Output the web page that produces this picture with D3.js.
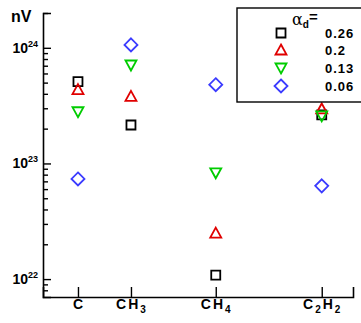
<!DOCTYPE html>
<html>
<head>
<meta charset="utf-8">
<script src="https://cdn.jsdelivr.net/npm/d3@7"></script>
<style>
  body { margin: 0; background: #fff; }
  svg { display: block; font-family: "Liberation Sans", Arial, sans-serif; font-weight: bold; }
</style>
</head>
<body>
<div id="chart"></div>
<script>
// species along the x axis, with their positions on the (uneven) axis
var species = ["C", "CH3", "CH4", "C2H2"];
var speciesPos = [1, 2, 3.6, 5.6];

// nV for each alpha_d
var alphas = ["0.26", "0.2", "0.13", "0.06"];
var nV026 = [5.1e23, 2.15e23, 1.08e22, 2.63e23];
var nV020 = [4.35e23, 3.8e23, 2.5e22, 2.96e23];
var nV013 = [2.8e23, 7.1e23, 8.3e22, 2.58e23];
var nV006 = [7.35e22, 1.06e24, 4.8e23, 6.4e22];

var yMajor = [1e22, 1e23, 1e24];

var W = 361, H = 323;
var margin = { top: 13, right: 8, bottom: 26, left: 43 };

var svg = d3.select("#chart").append("svg")
    .attr("width", W)
    .attr("height", H);

var x = d3.scaleLinear()
    .domain([0.34, 6.19])
    .range([margin.left, W - margin.right]);

var y = d3.scaleLog()
    .domain([7e21, 2e24])
    .range([H - margin.bottom, margin.top]);

// minor ticks between the decades
var yMinor = [];
[1e21, 1e22, 1e23, 1e24].forEach(function(p) {
    for (var k = 2; k <= 9; k++) {
        var v = k * p;
        if (v > 7e21 && v <= 2e24) yMinor.push(v);
    }
});

// y axis (ticks pointing inwards)
svg.append("g")
    .attr("class", "y-minor")
    .attr("transform", "translate(" + margin.left + ",0)")
    .call(d3.axisLeft(y).tickValues(yMinor).tickSize(-5).tickFormat(""));

svg.append("g")
    .attr("class", "y-axis")
    .attr("transform", "translate(" + margin.left + ",0)")
    .call(d3.axisLeft(y).tickValues(yMajor).tickSize(-8).tickFormat(""));

// x axis
svg.append("g")
    .attr("class", "x-axis")
    .attr("transform", "translate(0," + (H - margin.bottom) + ")")
    .call(d3.axisBottom(x).tickValues(speciesPos).tickSize(-10).tickFormat(""));

svg.selectAll(".domain").attr("stroke", "#000").attr("stroke-width", 1.6);
svg.selectAll(".tick line").attr("stroke", "#000").attr("stroke-width", 1.4);
svg.select(".y-minor .domain").remove();

// y tick labels 10^n
yMajor.forEach(function(v) {
    var t = svg.append("text")
        .attr("x", 38)
        .attr("y", y(v) + 5)
        .attr("text-anchor", "end")
        .attr("font-size", 14);
    t.append("tspan").text("10");
    t.append("tspan").attr("font-size", 9).attr("dy", -6)
        .text(String(Math.round(Math.log10(v))));
});

// x tick labels with subscripts
species.forEach(function(s, i) {
    var t = svg.append("text")
        .attr("x", x(speciesPos[i]) + 1)
        .attr("y", 313)
        .attr("text-anchor", "middle")
        .attr("letter-spacing", 2)
        .attr("font-size", 14);
    var parts = s.match(/[A-Z]+|\d+/g);
    parts.forEach(function(p) {
        if (/\d/.test(p)) {
            t.append("tspan").attr("font-size", 10).attr("dy", 4).text(p);
        } else {
            t.append("tspan").attr("dy", t.selectAll("tspan").size() ? -4 : 0).text(p);
        }
    });
});

// axis title
svg.append("text")
    .attr("x", 11)
    .attr("y", 22)
    .attr("font-size", 16)
    .text("nV");

// markers
var series = [
    { name: alphas[0], values: nV026, color: "#000000", shape: "square" },
    { name: alphas[1], values: nV020, color: "#e00000", shape: "up" },
    { name: alphas[2], values: nV013, color: "#00cc00", shape: "down" },
    { name: alphas[3], values: nV006, color: "#3b3bff", shape: "diamond" }
];

function shapePath(shape) {
    if (shape === "square") return "M-4.5,-4.5H4.5V4.5H-4.5Z";
    if (shape === "up") return "M0,-5.5L5.5,4.5H-5.5Z";
    if (shape === "down") return "M0,5.5L5.5,-4.5H-5.5Z";
    return "M0,-6.5L6.5,0L0,6.5L-6.5,0Z";
}

series.forEach(function(s) {
    svg.selectAll(".pt-" + s.shape)
        .data(s.values)
        .enter().append("path")
        .attr("class", "pt-" + s.shape)
        .attr("transform", function(d, i) {
            return "translate(" + x(speciesPos[i]) + "," + y(d) + ")";
        })
        .attr("d", shapePath(s.shape))
        .attr("fill", "none")
        .attr("stroke", s.color)
        .attr("stroke-width", 1.8);
});

// legend
var legend = svg.append("g");
legend.append("rect")
    .attr("x", 237)
    .attr("y", 8)
    .attr("width", 130)
    .attr("height", 94)
    .attr("fill", "#fff")
    .attr("stroke", "#000")
    .attr("stroke-width", 1.4);

var head = legend.append("text")
    .attr("x", 292)
    .attr("y", 25);
head.append("tspan")
    .attr("font-family", "'DejaVu Serif', serif")
    .attr("font-weight", "normal")
    .attr("font-size", 16)
    .text("α");
head.append("tspan").attr("font-size", 10).attr("dy", 3).text("d");
head.append("tspan").attr("font-size", 15).attr("dy", -6).text("=");

var rowY = [33, 50, 68, 86];
series.forEach(function(s, i) {
    legend.append("path")
        .attr("transform", "translate(281," + rowY[i] + ")")
        .attr("d", shapePath(s.shape))
        .attr("fill", "none")
        .attr("stroke", s.color)
        .attr("stroke-width", 1.8);
    legend.append("text")
        .attr("x", 325)
        .attr("y", rowY[i] + 5)
        .attr("letter-spacing", 1)
        .attr("font-size", 13)
        .text(s.name);
});
</script>
</body>
</html>
